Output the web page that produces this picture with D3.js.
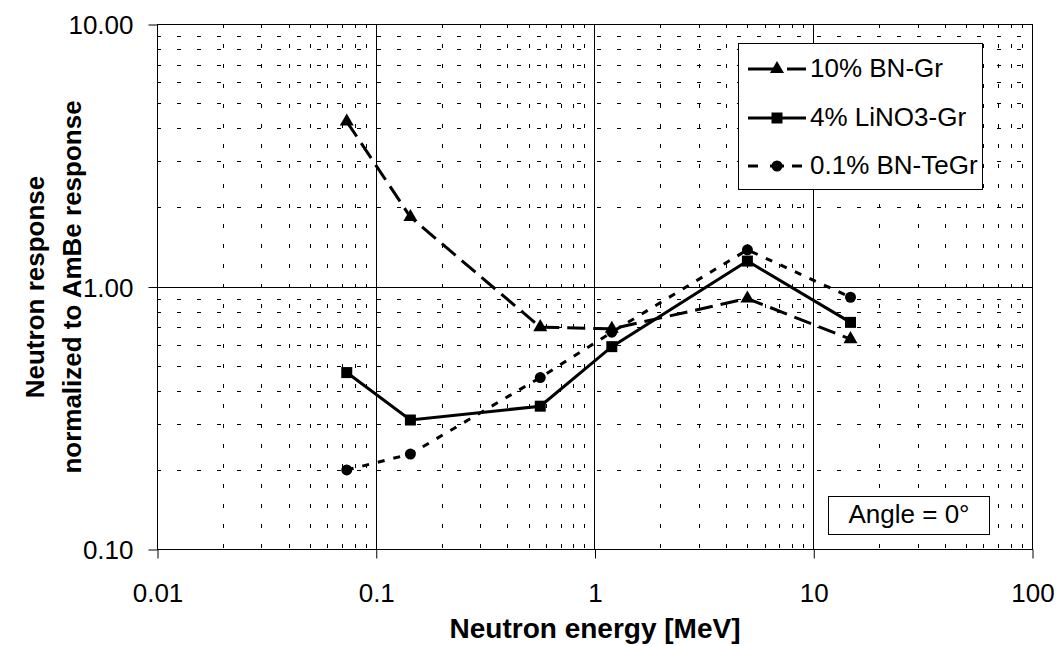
<!DOCTYPE html>
<html>
<head>
<meta charset="utf-8">
<script src="https://cdn.jsdelivr.net/npm/d3@7"></script>
<style>
  body { margin: 0; background: #fff; }
  text { font-family: "Liberation Sans", Arial, sans-serif; fill: #000; }
</style>
</head>
<body>
<div id="chart"></div>
<script>
// data (energy in MeV, response normalized to AmBe)
const energies = [0.0737, 0.144, 0.565, 1.2, 5.0, 14.8];
const bnGr = [4.25, 1.84, 0.70, 0.69, 0.90, 0.63];
const lino3Gr = [0.47, 0.31, 0.35, 0.59, 1.25, 0.73];
const bnTeGr = [0.20, 0.23, 0.45, 0.67, 1.38, 0.91];
const seriesNames = ["10% BN-Gr", "4% LiNO3-Gr", "0.1% BN-TeGr"];

const xTicks = [0.01, 0.1, 1, 10, 100];
const xTickLabels = ["0.01", "0.1", "1", "10", "100"];
const yTicks = [0.1, 1, 10];
const yTickLabels = ["0.10", "1.00", "10.00"];

const W = 1058, H = 646;
const margin = { top: 24, right: 26, bottom: 97, left: 157 };
const width = W - margin.left - margin.right;
const height = H - margin.top - margin.bottom;

const svg = d3.select('#chart').append('svg')
  .attr('width', W)
  .attr('height', H);

const g = svg.append('g')
  .attr('transform', `translate(${margin.left},${margin.top})`);

const x = d3.scaleLog().domain([0.01, 100]).range([0, width]);
const y = d3.scaleLog().domain([0.1, 10]).range([height, 0]);

// minor grid (dashed)
const xMinor = [];
[0.01, 0.1, 1, 10].forEach(d => { for (let k = 2; k <= 9; k++) xMinor.push(d * k); });
const yMinor = [];
[0.1, 1].forEach(d => { for (let k = 2; k <= 9; k++) yMinor.push(d * k); });

g.selectAll('line.hminor')
  .data(yMinor)
  .enter().append('line')
  .attr('class', 'hminor')
  .attr('x1', 0).attr('x2', width)
  .attr('y1', d => Math.round(y(d)) + 0.5).attr('y2', d => Math.round(y(d)) + 0.5)
  .attr('stroke', '#000')
  .attr('stroke-width', 1)
  .attr('stroke-dasharray', '4,16');

g.selectAll('line.vminor')
  .data(xMinor)
  .enter().append('line')
  .attr('class', 'vminor')
  .attr('y1', 0).attr('y2', height)
  .attr('x1', d => Math.round(x(d)) + 0.5).attr('x2', d => Math.round(x(d)) + 0.5)
  .attr('stroke', '#000')
  .attr('stroke-width', 1)
  .attr('stroke-dasharray', '4,16');

// major grid (solid)
g.selectAll('line.vmajor')
  .data([0.1, 1, 10])
  .enter().append('line')
  .attr('y1', 0).attr('y2', height)
  .attr('x1', d => Math.round(x(d)) + 0.5).attr('x2', d => Math.round(x(d)) + 0.5)
  .attr('stroke', '#000');

g.selectAll('line.hmajor')
  .data([1])
  .enter().append('line')
  .attr('x1', 0).attr('x2', width)
  .attr('y1', d => Math.round(y(d)) + 0.5).attr('y2', d => Math.round(y(d)) + 0.5)
  .attr('stroke', '#000');

// frame
g.append('rect')
  .attr('x', 0.5).attr('y', 0.5)
  .attr('width', width).attr('height', height)
  .attr('fill', 'none')
  .attr('stroke', '#000');

// axes
const xAxis = g.append('g')
  .attr('transform', `translate(0.5,${height + 0.5})`)
  .call(d3.axisBottom(x).tickValues(xTicks).tickSize(9).tickSizeOuter(0)
    .tickFormat((d, i) => xTickLabels[i]));
xAxis.selectAll('text')
  .attr('y', 52).attr('dy', 0)
  .style('font-size', '26px');

const yAxis = g.append('g')
  .attr('transform', 'translate(0.5,0.5)')
  .call(d3.axisLeft(y).tickValues(yTicks).tickSize(9).tickSizeOuter(0)
    .tickFormat((d, i) => yTickLabels[i]));
yAxis.selectAll('text')
  .attr('x', -24).attr('dy', '0.36em')
  .style('font-size', '26px');

svg.selectAll('.domain').remove();
svg.selectAll('.tick line').attr('stroke', '#000');

// axis titles
svg.append('text')
  .attr('x', 595).attr('y', 638)
  .attr('text-anchor', 'middle')
  .style('font-size', '28px')
  .style('font-weight', 'bold')
  .text('Neutron energy [MeV]');

const yTitle = svg.append('text')
  .attr('transform', 'translate(0,287) rotate(-90)')
  .attr('text-anchor', 'middle')
  .style('font-size', '26px')
  .style('font-weight', 'bold');
yTitle.append('tspan').attr('x', 0).attr('y', 44).text('Neutron response');
yTitle.append('tspan').attr('x', 0).attr('y', 81).text('normalized to AmBe response');

// series
const series = [
  { name: seriesNames[0], values: bnGr, dash: '18,8', symbol: d3.symbolTriangle, size: 85, legendDash: '29,10,19' },
  { name: seriesNames[1], values: lino3Gr, dash: null, symbol: d3.symbolSquare, size: 121, legendDash: null },
  { name: seriesNames[2], values: bnTeGr, dash: '7,9', symbol: d3.symbolCircle, size: 95, legendDash: '10,12,14,8,10,20' }
];

const line = d3.line()
  .x(d => x(d[0]))
  .y(d => y(d[1]));

series.forEach(s => {
  const pts = energies.map((e, i) => [e, s.values[i]]);
  g.append('path')
    .datum(pts)
    .attr('fill', 'none')
    .attr('stroke', '#000')
    .attr('stroke-width', 3)
    .attr('stroke-dasharray', s.dash)
    .attr('d', line);
  g.selectAll(null)
    .data(pts)
    .enter().append('path')
    .attr('transform', d => `translate(${x(d[0])},${y(d[1])})`)
    .attr('d', d3.symbol(s.symbol, s.size))
    .attr('fill', '#000');
});

// legend
const legend = svg.append('g');
legend.append('rect')
  .attr('x', 738.5).attr('y', 43.5)
  .attr('width', 244).attr('height', 146)
  .attr('fill', '#fff')
  .attr('stroke', '#000');

const rowY = [69, 118, 166];
series.forEach((s, i) => {
  legend.append('line')
    .attr('x1', 748).attr('x2', 806)
    .attr('y1', rowY[i]).attr('y2', rowY[i])
    .attr('stroke', '#000')
    .attr('stroke-width', 3)
    .attr('stroke-dasharray', s.legendDash);
  legend.append('path')
    .attr('transform', `translate(777,${rowY[i]})`)
    .attr('d', d3.symbol(s.symbol, s.size))
    .attr('fill', '#000');
  legend.append('text')
    .attr('x', 810).attr('y', rowY[i] + 8)
    .style('font-size', '26px')
    .text(s.name);
});

// angle note
svg.append('rect')
  .attr('x', 828.5).attr('y', 496.5)
  .attr('width', 161).attr('height', 38)
  .attr('fill', '#fff')
  .attr('stroke', '#000');
svg.append('text')
  .attr('x', 909).attr('y', 523)
  .attr('text-anchor', 'middle')
  .style('font-size', '26px')
  .text('Angle = 0°');
</script>
</body>
</html>
